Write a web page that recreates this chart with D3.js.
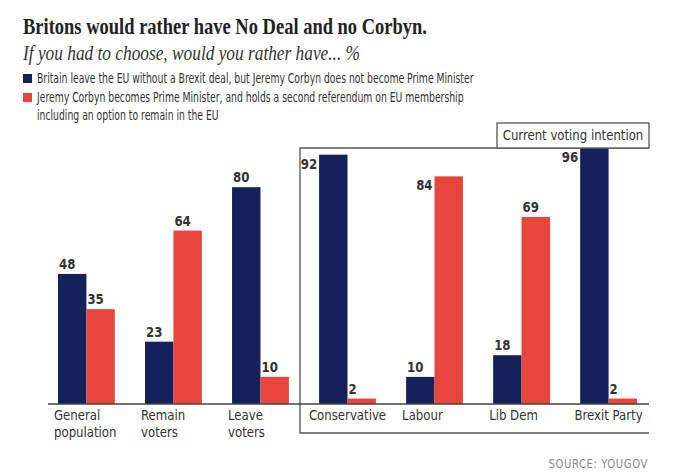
<!DOCTYPE html>
<head>
<meta charset="utf-8">
<script src="https://d3js.org/d3.v7.min.js"></script>
<style>
  body { margin: 0; background: #fff; }
  .sans { font-family: "Liberation Sans Narrow", "DejaVu Sans Condensed", "Roboto", sans-serif; }
</style>
</head>
<body>
<div id="my_dataviz"></div>
<script>
// datos
var categories = ["General|population", "Remain|voters", "Leave|voters", "Conservative", "Labour", "Lib Dem", "Brexit Party"]
var panel = ["all", "all", "all", "party", "party", "party", "party"]
var noDeal = [48, 23, 80, 92, 10, 18, 96]
var corbyn = [35, 64, 10, 2, 84, 69, 2]
var seriesNames = ["Britain leave the EU without a Brexit deal, but Jeremy Corbyn does not become Prime Minister",
                   "Jeremy Corbyn becomes Prime Minister, and holds a second referendum on EU membership|including an option to remain in the EU"]
var seriesColors = ["#15215a", "#e8453c"]

var width = 680, height = 476

var svg = d3.select("#my_dataviz")
  .append("svg")
    .attr("width", width)
    .attr("height", height)

// estrechar texto (no hay fuente condensada como la original)
function condense(sel, f) {
  sel.each(function() {
    var w = this.getComputedTextLength()
    d3.select(this).attr("textLength", w * f).attr("lengthAdjust", "spacingAndGlyphs")
  })
  return sel
}

// titulo
svg.append("text")
  .attr("x", 23).attr("y", 34)
  .style("font-family", "'Liberation Serif', 'DejaVu Serif', serif")
  .style("font-weight", "bold")
  .style("font-size", "23px")
  .attr("fill", "#222")
  .attr("textLength", 404).attr("lengthAdjust", "spacingAndGlyphs")
  .text("Britons would rather have No Deal and no Corbyn.")

svg.append("text")
  .attr("x", 23).attr("y", 60)
  .style("font-family", "'Liberation Serif', 'DejaVu Serif', serif")
  .style("font-style", "italic")
  .style("font-size", "22px")
  .attr("fill", "#333")
  .attr("textLength", 337).attr("lengthAdjust", "spacingAndGlyphs")
  .text("If you had to choose, would you rather have... %")

// leyenda
var legendY = [74, 93]
seriesNames.forEach(function(name, i) {
  svg.append("rect")
    .attr("x", 23).attr("y", legendY[i])
    .attr("width", 9).attr("height", 9)
    .attr("fill", seriesColors[i])
  name.split("|").forEach(function(line, j) {
    var t = svg.append("text")
      .attr("class", "sans")
      .attr("x", 37).attr("y", legendY[i] + 9 + j * 18)
      .style("font-size", "14.5px")
      .attr("fill", "#333")
      .text(line)
    condense(t, 0.71)
  })
})

// escalas
var x = d3.scaleBand()
  .domain(d3.range(categories.length))
  .range([58, 637])
  .paddingInner(0.347)
  .paddingOuter(0)

var xSub = d3.scaleBand()
  .domain([0, 1])
  .range([0, x.bandwidth()])

var y = d3.scaleLinear()
  .domain([0, 100])
  .range([404, 133])

var boxLeft = 300, boxRight = 649, boxTop = 148, boxBottom = 433

svg.append("clipPath").attr("id", "clip")
  .append("rect")
    .attr("x", 0).attr("y", boxTop)
    .attr("width", width).attr("height", height)

var data = []
categories.forEach(function(c, i) {
  [noDeal[i], corbyn[i]].forEach(function(v, s) {
    data.push({cat: i, s: s, v: v, panel: panel[i]})
  })
})

var bars = svg.append("g").attr("clip-path", "url(#clip)")
bars.selectAll("rect")
  .data(data)
  .enter()
  .append("rect")
    .attr("x", function(d) { return x(d.cat) + xSub(d.s) })
    .attr("y", function(d) { return y(d.v) })
    .attr("width", xSub.bandwidth())
    .attr("height", function(d) { return y(0) - y(d.v) })
    .attr("fill", function(d) { return seriesColors[d.s] })

// etiquetas de valores
var vals = svg.selectAll(".val")
  .data(data)
  .enter()
  .append("text")
    .attr("class", "sans val")
    .style("font-size", "14.5px")
    .style("font-weight", "bold")
    .attr("fill", "#333")
    .attr("text-anchor", function(d) { return (d.panel == "party" && d.v > 80) ? "end" : "start" })
    .attr("x", function(d) {
      var bx = x(d.cat) + xSub(d.s)
      return (d.panel == "party" && d.v > 80) ? bx - 2 : bx + 1
    })
    .attr("y", function(d) {
      if (d.panel == "party" && d.v > 80) return Math.max(y(d.v), boxTop) + 14
      return y(d.v) - 5
    })
    .text(function(d) { return d.v })
condense(vals, 0.9)

// caja de intencion de voto
svg.append("path")
  .attr("d", "M" + boxRight + "," + boxTop + "H" + boxLeft + "V" + boxBottom + "H" + boxRight)
  .attr("fill", "none")
  .attr("stroke", "#555")
  .attr("stroke-width", 1.3)

svg.append("rect")
  .attr("x", 497).attr("y", 123)
  .attr("width", boxRight - 497).attr("height", boxTop - 123)
  .attr("fill", "#fff")
  .attr("stroke", "#555")
  .attr("stroke-width", 1.3)

var cvi = svg.append("text")
  .attr("class", "sans")
  .attr("x", (497 + boxRight) / 2).attr("y", 140)
  .attr("text-anchor", "middle")
  .style("font-size", "14px")
  .attr("fill", "#333")
  .text("Current voting intention")
condense(cvi, 0.93)

// eje
svg.append("line")
  .attr("x1", 48).attr("x2", boxRight)
  .attr("y1", y(0)).attr("y2", y(0))
  .attr("stroke", "#444")
  .attr("stroke-width", 1.5)

categories.forEach(function(c, i) {
  var lines = svg.selectAll(null)
    .data(c.split("|"))
    .enter()
    .append("text")
      .attr("class", "sans")
      .style("font-size", "14.5px")
      .attr("fill", "#333")
      .attr("y", function(d, j) { return 420 + j * 17 })
      .text(function(d) { return d })
  condense(lines, 0.9)
  var w = d3.max(lines.nodes(), function(n) { return +n.getAttribute("textLength") })
  var cx = x(i) + x.bandwidth() / 2
  lines.attr("x", Math.min(x(i) - 4, cx - w / 2))
})

var src = svg.append("text")
  .attr("class", "sans")
  .attr("x", 648).attr("y", 468)
  .attr("text-anchor", "end")
  .style("font-size", "12.5px")
  .style("letter-spacing", "0.6px")
  .attr("fill", "#888")
  .text("SOURCE: YOUGOV")
condense(src, 0.9)
</script>
</body>
